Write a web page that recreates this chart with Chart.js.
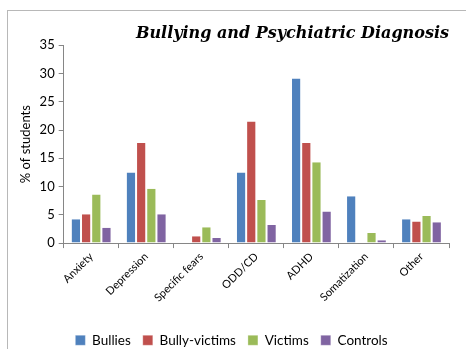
<!DOCTYPE html>
<html><head><meta charset="utf-8">
<script src="https://cdn.jsdelivr.net/npm/chart.js@4/dist/chart.umd.min.js"></script>
<style>
html,body{margin:0;padding:0;background:#fff;overflow:hidden}
#wrap{position:relative;width:466px;height:349px}
#frame{position:absolute;left:7px;top:10px;width:470px;height:360px;border:1px solid #b8b8b8;box-sizing:border-box;pointer-events:none}
canvas{position:absolute;left:0;top:0}
</style></head>
<body><div id="wrap"><canvas id="c" width="466" height="349"></canvas><div id="frame"></div></div>
<script>
const categories = ["Anxiety","Depression","Specific fears","ODD/CD","ADHD","Somatization","Other"];
const bullies = [4.2, 12.5, 0, 12.5, 29.1, 8.3, 4.2];
const bullyVictims = [5.1, 17.7, 1.2, 21.5, 17.7, 0, 3.8];
const victims = [8.6, 9.6, 2.8, 7.6, 14.3, 1.8, 4.8];
const controls = [2.7, 5.1, 0.9, 3.2, 5.6, 0.5, 3.7];
const yTicks = [0,5,10,15,20,25,30,35];
const title = "Bullying and Psychiatric Diagnosis";

const font = "Lato, 'Open Sans', sans-serif";
const mk = (label, data, color) => ({label, data, backgroundColor: color, borderColor: 'rgba(255,255,255,0.6)', borderWidth: {left:1,right:1,top:0,bottom:0}, barPercentage: 1.0, categoryPercentage: 0.74});

new Chart(document.getElementById('c'), {
  type: 'bar',
  data: {
    labels: categories,
    datasets: [
      mk('Bullies', bullies, '#4F81BD'),
      mk('Bully-victims', bullyVictims, '#C0504D'),
      mk('Victims', victims, '#9BBB59'),
      mk('Controls', controls, '#8064A2')
    ]
  },
  options: {
    responsive: false,
    animation: false,
    layout: {padding: {left: 14, right: 17, top: 24, bottom: -8}},
    plugins: {
      title: {display: true, text: title, align: 'end', color: '#000',
        font: {family: "'DejaVu Serif', serif", size: 16, style: 'italic', weight: 'bold'}, padding: {top: 0, bottom: 2}},
      legend: {position: 'bottom', labels: {boxWidth: 10, boxHeight: 10, color: '#000', font: {family: font, size: 13.5}, padding: 12}},
      tooltip: {enabled: false}
    },
    scales: {
      y: {
        min: 0, max: 35,
        afterBuildTicks: ax => { ax.ticks = yTicks.map(v => ({value: v})); },
        ticks: {color: '#000', font: {family: font, size: 13}, padding: 4},
        grid: {display: true, drawOnChartArea: false, drawTicks: true, tickLength: 5, color: '#868686'},
        border: {display: true, color: '#868686'},
        title: {display: true, text: '% of students', color: '#000', font: {family: font, size: 13}, padding: {bottom: 2}}
      },
      x: {
        afterFit: s => { s.height = s.height + 15; },
        ticks: {color: '#000', font: {family: font, size: 11}, maxRotation: 45, minRotation: 45, padding: 2},
        grid: {display: true, offset: true, drawOnChartArea: false, drawTicks: true, tickLength: 5, color: '#868686'},
        border: {display: true, color: '#868686'}
      }
    }
  }
});
</script></body></html>
